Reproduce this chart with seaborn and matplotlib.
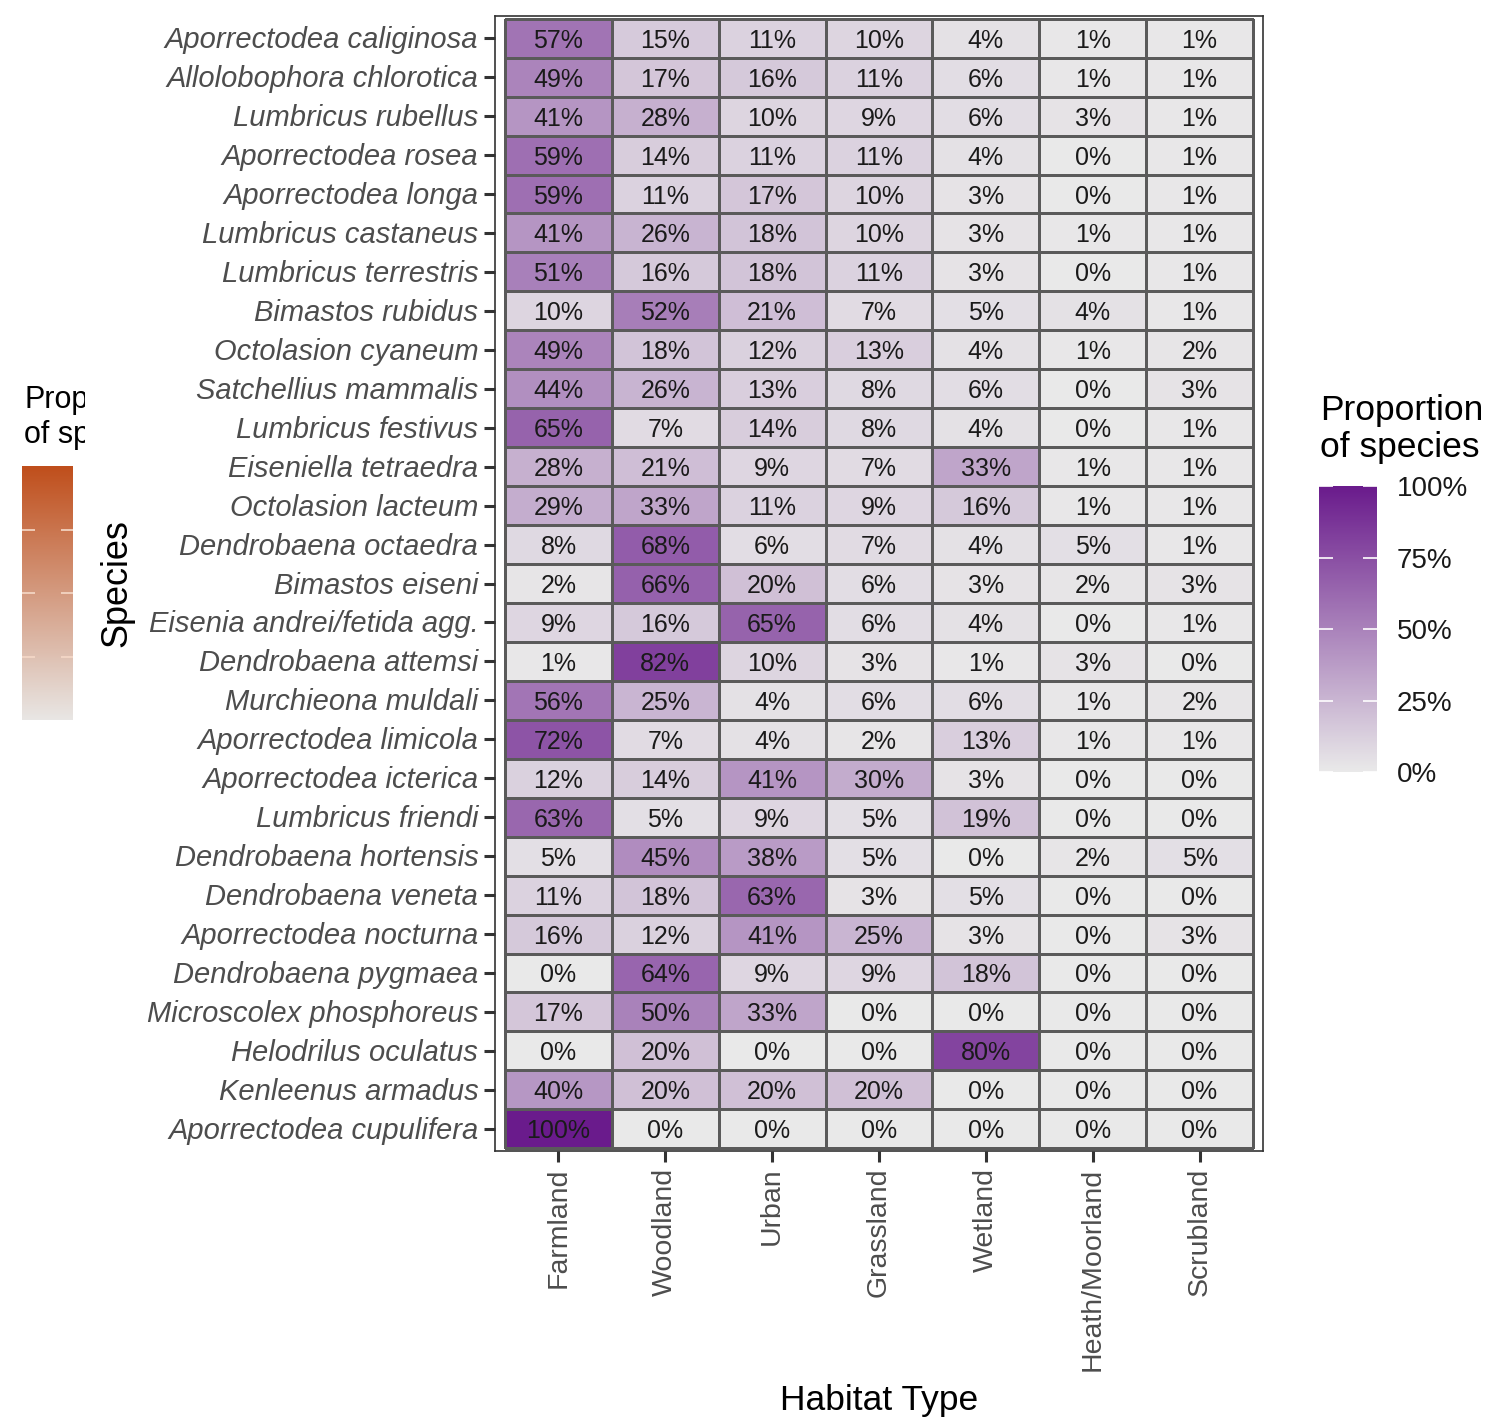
import numpy as np
import pandas as pd
import seaborn as sns
import matplotlib.pyplot as plt
from matplotlib.colors import LinearSegmentedColormap
from matplotlib.cm import ScalarMappable
from matplotlib.transforms import Bbox, TransformedBbox, ScaledTranslation

plt.rcParams['font.family'] = ['Liberation Sans', 'DejaVu Sans']

# datos (porcentaje por habitat)
species = [
    "Aporrectodea caliginosa", "Allolobophora chlorotica", "Lumbricus rubellus",
    "Aporrectodea rosea", "Aporrectodea longa", "Lumbricus castaneus",
    "Lumbricus terrestris", "Bimastos rubidus", "Octolasion cyaneum",
    "Satchellius mammalis", "Lumbricus festivus", "Eiseniella tetraedra",
    "Octolasion lacteum", "Dendrobaena octaedra", "Bimastos eiseni",
    "Eisenia andrei/fetida agg.", "Dendrobaena attemsi", "Murchieona muldali",
    "Aporrectodea limicola", "Aporrectodea icterica", "Lumbricus friendi",
    "Dendrobaena hortensis", "Dendrobaena veneta", "Aporrectodea nocturna",
    "Dendrobaena pygmaea", "Microscolex phosphoreus", "Helodrilus oculatus",
    "Kenleenus armadus", "Aporrectodea cupulifera",
]
habitats = ["Farmland", "Woodland", "Urban", "Grassland", "Wetland",
            "Heath/Moorland", "Scrubland"]

farmland  = [57, 49, 41, 59, 59, 41, 51, 10, 49, 44, 65, 28, 29, 8, 2, 9, 1, 56, 72, 12, 63, 5, 11, 16, 0, 17, 0, 40, 100]
woodland  = [15, 17, 28, 14, 11, 26, 16, 52, 18, 26, 7, 21, 33, 68, 66, 16, 82, 25, 7, 14, 5, 45, 18, 12, 64, 50, 20, 20, 0]
urban     = [11, 16, 10, 11, 17, 18, 18, 21, 12, 13, 14, 9, 11, 6, 20, 65, 10, 4, 4, 41, 9, 38, 63, 41, 9, 33, 0, 20, 0]
grassland = [10, 11, 9, 11, 10, 10, 11, 7, 13, 8, 8, 7, 9, 7, 6, 6, 3, 6, 2, 30, 5, 5, 3, 25, 9, 0, 0, 20, 0]
wetland   = [4, 6, 6, 4, 3, 3, 3, 5, 4, 6, 4, 33, 16, 4, 3, 4, 1, 6, 13, 3, 19, 0, 5, 3, 18, 0, 80, 0, 0]
heath     = [1, 1, 3, 0, 0, 1, 0, 4, 1, 0, 0, 1, 1, 5, 2, 0, 3, 1, 1, 0, 0, 2, 0, 0, 0, 0, 0, 0, 0]
scrubland = [1, 1, 1, 1, 1, 1, 1, 1, 2, 3, 1, 1, 1, 1, 3, 1, 0, 2, 1, 0, 0, 5, 0, 3, 0, 0, 0, 0, 0]

legend_ticks = [0, 0.25, 0.5, 0.75, 1.0]
legend_labels = ["0%", "25%", "50%", "75%", "100%"]

df = pd.DataFrame({
    "Farmland": farmland, "Woodland": woodland, "Urban": urban,
    "Grassland": grassland, "Wetland": wetland,
    "Heath/Moorland": heath, "Scrubland": scrubland,
}, index=species)[habitats] / 100
etiquetas = (df * 100).round().astype(int).astype(str) + "%"

purples = LinearSegmentedColormap.from_list("purp", ["#e9e9e9", "#6a1b8c"])
oranges = LinearSegmentedColormap.from_list("oran", ["#e8e6e4", "#bf4e1b"])

W, H = 1499, 1425
fig = plt.figure(figsize=(W / 100, H / 100), dpi=100)
ax = fig.add_axes([495 / W, 1 - 1151 / H, 768 / W, 1135 / H])
cax = fig.add_axes([1319 / W, 1 - 772 / H, 58 / W, 286 / H])

sns.heatmap(df, ax=ax, cmap=purples, vmin=0, vmax=1, annot=etiquetas, fmt="",
            annot_kws={"color": "#1a1a1a", "fontsize": 18, "va": "center_baseline"},
            linewidths=0.8, linecolor="#5a5a5a", cbar_ax=cax,
            cbar_kws={"ticks": legend_ticks})

# marco del panel y ticks
ax.set_xlim(-0.094, 7.094)
ax.set_ylim(29.07, -0.07)
for s in ax.spines.values():
    s.set_visible(True)
    s.set_color("#333333")
    s.set_linewidth(1.2)
ax.tick_params(axis="both", length=8, width=2.2, color="#333333",
               labelcolor="#4d4d4d", labelsize=21, pad=4)
ax.set_yticklabels(species, rotation=0, style="italic")
ax.set_xticklabels(habitats, rotation=90, fontsize=20.5)
desplazar = ScaledTranslation(0, -2 / 100, fig.dpi_scale_trans)
for lab in ax.get_yticklabels():
    lab.set_transform(lab.get_transform() + desplazar)
ax.set_xlabel("Habitat Type", fontsize=25.5)
ax.set_ylabel("Species", fontsize=26)
ax.xaxis.set_label_coords(0.5, -0.205)
ax.yaxis.set_label_coords(-0.470, 0.5)

# leyenda derecha
cb = ax.collections[0].colorbar
cb.outline.set_visible(False)
cb.set_ticklabels(legend_labels)
cax.tick_params(direction="in", length=10, width=1.2, color="white",
                labelcolor="#1a1a1a", labelsize=20, pad=14, left=True, right=True)
fig.text(1320 / W, 1 - 394 / H, "Proportion\nof species", ha="left", va="top",
         fontsize=25.5, linespacing=1.15)

# leyenda naranja recortada a la izquierda
lax = fig.add_axes([22 / W, 1 - 720 / H, 51 / W, 254 / H])
cb2 = fig.colorbar(ScalarMappable(cmap=oranges), cax=lax, ticks=[0.25, 0.5, 0.75])
cb2.outline.set_visible(False)
lax.tick_params(direction="in", length=9, width=1.2, color="#f5d9c8",
                labelright=False, left=True, right=True)
t = fig.text(24 / W, 1 - 385 / H, "Proportion\nof species", ha="left", va="top",
             fontsize=22, linespacing=1.2)
t.set_clip_box(TransformedBbox(Bbox([[0, 0], [85 / W, 1]]), fig.transFigure))
t.set_clip_on(True)

fig.savefig("out.png", dpi=100)
